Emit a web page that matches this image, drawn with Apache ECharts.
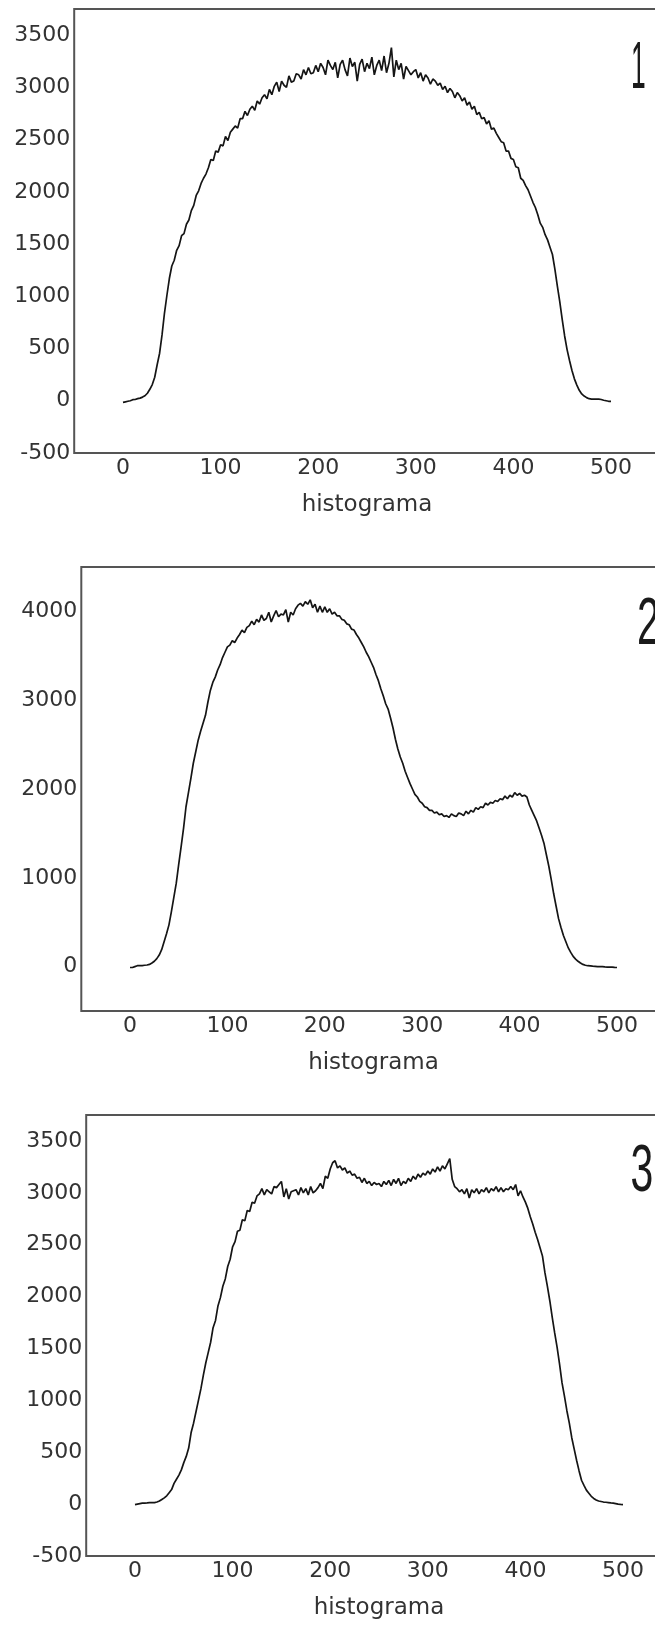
<!DOCTYPE html>
<html><head><meta charset="utf-8">
<script src="https://cdn.jsdelivr.net/npm/echarts@6/dist/echarts.min.js"></script>
<style>html,body{margin:0;padding:0;background:#fff;}#c{width:655px;height:1627px;}</style>
</head><body><div id="c"></div>
<script>
// bin width of the histogram samples (x = index * binStep)
const binStep = 2.5;
const hist1 = [
-15,-10,-5,0,10,12,20,25,35,48,
72,110,155,225,345,455,630,840,1010,1170,
1290,1345,1440,1485,1580,1600,1690,1730,1820,1870,
1965,2010,2080,2130,2170,2230,2310,2300,2390,2380,
2450,2440,2530,2490,2570,2600,2630,2610,2700,2700,
2770,2730,2790,2820,2780,2870,2840,2900,2930,2890,
2980,2930,3010,3050,2960,3060,3020,3000,3110,3050,
3060,3130,3120,3080,3170,3120,3190,3130,3140,3210,
3150,3230,3190,3120,3260,3210,3170,3240,3090,3220,
3260,3170,3110,3280,3200,3240,3060,3220,3270,3150,
3230,3180,3290,3120,3210,3260,3160,3300,3140,3230,
3380,3100,3260,3170,3230,3080,3200,3160,3120,3150,
3170,3090,3140,3060,3120,3090,3030,3080,3060,3020,
3040,2980,3010,2950,2990,2960,2900,2950,2920,2870,
2900,2830,2860,2790,2820,2740,2760,2700,2710,2650,
2680,2600,2610,2560,2520,2480,2470,2390,2390,2320,
2310,2240,2230,2130,2110,2060,2020,1960,1900,1850,
1780,1700,1660,1590,1540,1470,1400,1260,1100,950,
780,620,490,385,290,210,150,100,65,45,
30,20,15,15,15,15,12,5,0,-5,
-5];
const hist2 = [
-10,-10,0,10,10,12,15,18,25,40,
60,90,130,190,280,370,470,620,780,940,
1150,1350,1560,1800,1960,2120,2290,2420,2550,2650,
2740,2830,2980,3110,3200,3260,3340,3400,3480,3540,
3600,3620,3670,3650,3700,3740,3790,3760,3820,3840,
3890,3850,3910,3880,3960,3900,3920,3990,3880,3950,
4010,3940,3970,3960,4020,3880,3990,3960,4030,4070,
4090,4060,4110,4080,4130,4040,4080,3990,4060,3990,
4050,3990,4030,3970,3990,3950,3950,3910,3900,3860,
3850,3800,3790,3740,3700,3650,3600,3540,3490,3430,
3370,3290,3220,3130,3050,2960,2900,2800,2690,2560,
2450,2360,2290,2200,2130,2060,2000,1940,1910,1860,
1840,1800,1790,1760,1760,1730,1740,1710,1720,1690,
1700,1680,1720,1700,1690,1730,1720,1700,1750,1720,
1760,1740,1790,1770,1800,1790,1840,1820,1850,1840,
1870,1860,1890,1880,1920,1890,1930,1910,1960,1930,
1950,1920,1930,1910,1820,1760,1700,1640,1560,1480,
1390,1260,1130,980,820,680,540,440,350,280,
210,160,115,85,60,40,25,15,10,8,
5,3,0,0,0,-3,-5,-5,-5,-8,
-10];
const hist3 = [
-5,0,5,10,10,12,15,15,15,20,
30,45,60,80,110,140,200,240,280,330,
400,460,540,690,780,890,1000,1110,1240,1360,
1460,1560,1700,1770,1910,1990,2100,2170,2290,2360,
2480,2530,2630,2640,2740,2730,2830,2820,2910,2900,
2970,2990,3040,2980,3030,3010,2990,3060,3050,3080,
3110,2960,3040,2940,3010,3020,3030,2980,3050,3000,
3040,2980,3060,3000,3020,3050,3090,3040,3160,3140,
3230,3290,3310,3240,3260,3220,3240,3190,3210,3170,
3180,3140,3150,3100,3140,3090,3110,3070,3100,3080,
3090,3060,3110,3080,3120,3070,3130,3090,3140,3070,
3110,3090,3140,3110,3160,3130,3180,3150,3190,3170,
3210,3180,3230,3200,3250,3210,3260,3230,3280,3330,
3130,3060,3040,3010,3030,2990,3040,2950,3030,3000,
3040,2990,3030,3010,3050,3000,3040,3020,3060,3010,
3050,3010,3040,3030,3060,3030,3080,2970,3020,2960,
2910,2850,2770,2700,2620,2550,2470,2390,2230,2100,
1960,1800,1650,1510,1350,1170,1040,900,780,640,
530,420,320,230,180,135,105,75,55,40,
30,25,20,18,15,12,10,5,0,-3,
-5];
const xTickLabels = [0,100,200,300,400,500];
const yTickLabels1 = [-500,0,500,1000,1500,2000,2500,3000,3500];
const yTickLabels2 = [0,1000,2000,3000,4000];
const yTickLabels3 = [-500,0,500,1000,1500,2000,2500,3000,3500];
const panelNumbers = ['1','2','3'];
const xAxisName = 'histograma';

const series = [hist1, hist2, hist3];
const yTicks = [yTickLabels1, yTickLabels2, yTickLabels3];
const yRanges = [[-500,3750],[-500,4500],[-500,3750]];
const grids = [
  {left:74.2, top:9, width:585.6, height:444},
  {left:81.3, top:567, width:584.4, height:444},
  {left:86.2, top:1115, width:585.6, height:441}
];
const numPos = [[631,69.5],[637,625.5],[630.5,1173]];
const numScale = [0.4,0.62,0.62];

const labelFont = {fontFamily:'DejaVu Sans', fontSize:22, color:'#333'};
const option = {
  animation:false,
  backgroundColor:'#fff',
  grid: grids.map(g => Object.assign({show:true, borderColor:'#555', borderWidth:2, containLabel:false, outerBoundsMode:'none'}, g)),
  xAxis: grids.map((g,i) => ({
    type:'value', gridIndex:i, min:-50, max:550, interval:50,
    axisLine:{show:false}, axisTick:{show:false}, splitLine:{show:false},
    axisLabel:Object.assign({margin:4, formatter:v => xTickLabels.includes(v) ? String(v) : ''}, labelFont),
    name:xAxisName, nameLocation:'middle', nameGap:41,
    nameTextStyle:{fontFamily:'DejaVu Sans', fontSize:23, color:'#333'}
  })),
  yAxis: grids.map((g,i) => ({
    type:'value', gridIndex:i, min:yRanges[i][0], max:yRanges[i][1], interval:500,
    axisLine:{show:false}, axisTick:{show:false}, splitLine:{show:false},
    axisLabel:Object.assign({margin:4, formatter:v => yTicks[i].includes(v) ? String(v) : ''}, labelFont)
  })),
  series: series.map((vals,i) => ({
    type:'line', xAxisIndex:i, yAxisIndex:i, symbol:'none', silent:true,
    lineStyle:{color:'#151515', width:1.7},
    data: vals.map((v,k) => [k*binStep, v])
  })),
  graphic: panelNumbers.map((t,i) => ({
    type:'text', x:numPos[i][0], y:numPos[i][1], scaleX:numScale[i],
    style:{text:t, fontFamily:'Liberation Sans', fontSize:66, fill:'#1a1a1a', textAlign:'left', verticalAlign:'middle'}
  }))
};
const chart = echarts.init(document.getElementById('c'), null, {renderer:'canvas'});
chart.setOption(option);
</script></body></html>
